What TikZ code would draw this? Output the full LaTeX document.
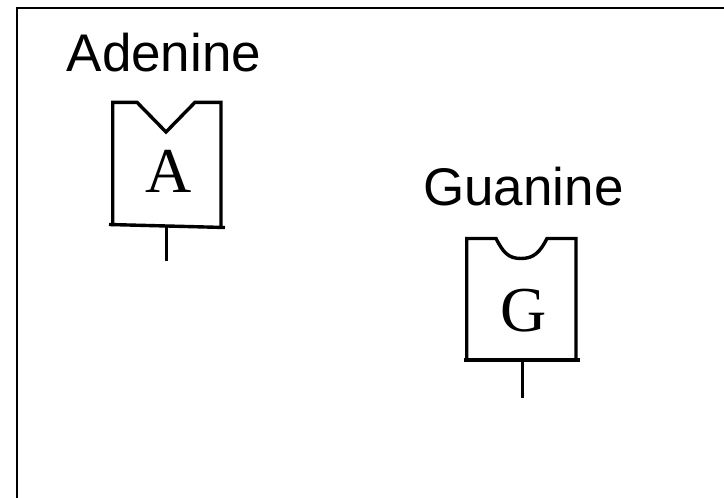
\documentclass[tikz,border=0pt]{standalone}
\usepackage{fontspec}
\setmainfont{Liberation Serif}
\setsansfont{Liberation Sans}
\tikzset{
  frameline/.style={line width=2pt,black},
  baseshape/.style={line width=3.4pt,black,line join=miter},
  namelabel/.style={anchor=base west,inner sep=0pt,font=\sffamily\fontsize{53}{53}\selectfont},
  baseletter/.style={anchor=base,inner sep=0pt,font=\fontsize{64}{64}\selectfont}
}
\begin{document}
\begin{tikzpicture}[x=1pt,y=-1pt]
\useasboundingbox (0,0) rectangle (724,498);
\draw[frameline] (16.5,498) -- (16.5,7.5) -- (724,7.5);
% Adenine
\node[namelabel] (adeninelabel) at (66.5,71.5) {Adenine};
\draw[baseshape] (112.7,226) -- (112.7,102.3) -- (137,102.3) -- (166,132) -- (195,102.3) -- (221,102.3) -- (221,227);
\draw[baseshape] (109,224.5) -- (225,227.5);
\node[baseletter] (aletter) at (169,192) {A};
\coordinate (atop) at (166.3,226);
\coordinate (abottom) at (166.3,260.5);
\draw[baseshape] (atop) -- (abottom);
% Guanine
\node[namelabel] (guaninelabel) at (423,205.5) {Guanine};
\draw[baseshape] (466.7,360) -- (466.7,238.5) -- (496,238.5) .. controls (503,252) and (508,258.5) .. (521,258.5) .. controls (534,258.5) and (540,252) .. (547,238.5) -- (576,238.5) -- (576,360);
\draw[baseshape] (464,360) -- (579.5,360);
\node[baseletter] (gletter) at (524,331) {G};
\coordinate (gtop) at (522.7,360);
\coordinate (gbottom) at (522.7,397.5);
\draw[baseshape] (gtop) -- (gbottom);
\end{tikzpicture}
\end{document}
